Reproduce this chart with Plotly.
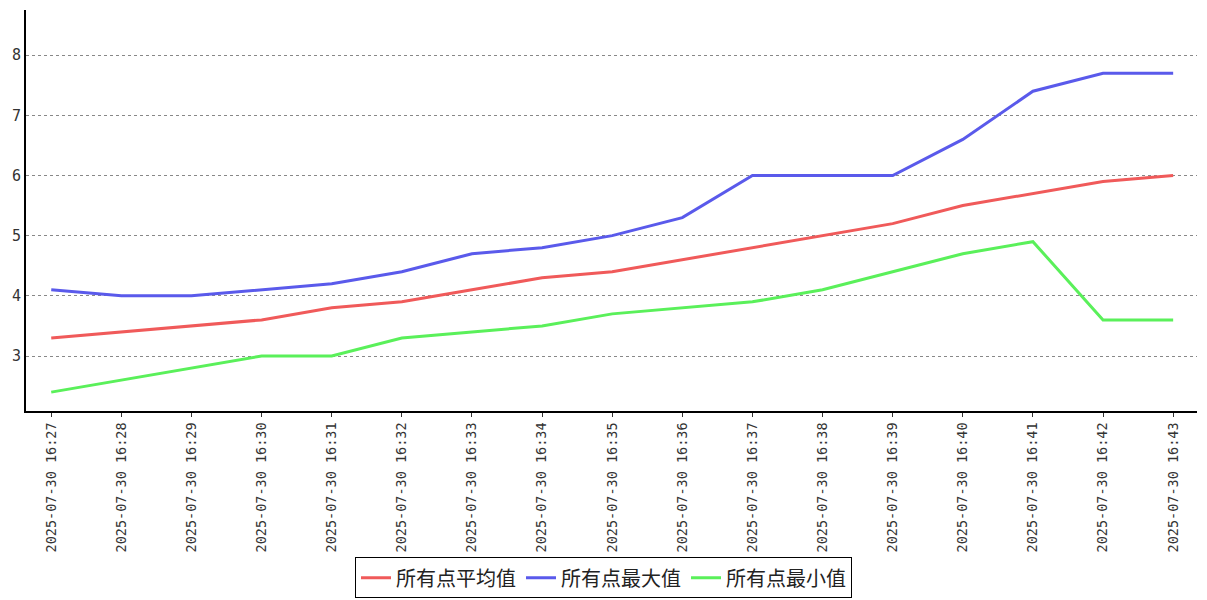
import plotly.graph_objects as go

times = ["2025-07-30 16:%02d" % m for m in range(27, 44)]
avg_vals = [3.3, 3.4, 3.5, 3.6, 3.8, 3.9, 4.1, 4.3, 4.4, 4.6, 4.8, 5.0, 5.2, 5.5, 5.7, 5.9, 6.0]
max_vals = [4.1, 4.0, 4.0, 4.1, 4.2, 4.4, 4.7, 4.8, 5.0, 5.3, 6.0, 6.0, 6.0, 6.6, 7.4, 7.7, 7.7]
min_vals = [2.4, 2.6, 2.8, 3.0, 3.0, 3.3, 3.4, 3.5, 3.7, 3.8, 3.9, 4.1, 4.4, 4.7, 4.9, 3.6, 3.6]
names = ["所有点平均值", "所有点最大值", "所有点最小值"]
colors = ["#f05a5a", "#5a5aeb", "#5af05a"]

fig = go.Figure()
for name, vals, c in zip(names, [avg_vals, max_vals, min_vals], colors):
    fig.add_trace(go.Scatter(x=times, y=vals, name=name, mode="lines",
                             line=dict(color=c, width=3)))

fig.update_layout(
    width=1207, height=600,
    margin=dict(l=26, r=10, t=10, b=189),
    plot_bgcolor="white", paper_bgcolor="white",
    font=dict(family="DejaVu Sans Mono, Noto Sans CJK SC", color="#333"),
    showlegend=True,
    legend=dict(orientation="h", x=0.5, xanchor="center", xref="container",
                y=0.003, yanchor="bottom", yref="container",
                bordercolor="black", borderwidth=1, bgcolor="rgba(255,255,255,0)",
                font=dict(size=20, family="Noto Sans CJK SC", color="#222"),
                itemwidth=30, tracegroupgap=0),
    xaxis=dict(type="category", range=[-0.36, 16.34], tickangle=-90,
               showline=True, linecolor="black", linewidth=2, showgrid=False,
               ticks="outside", ticklen=4, tickcolor="#333", automargin=False,
               tickfont=dict(size=13.5, family="DejaVu Sans Mono"), zeroline=False),
    yaxis=dict(range=[2.086, 8.75], tickvals=[3, 4, 5, 6, 7, 8],
               showline=True, linecolor="black", linewidth=2, automargin=False,
               showgrid=True, gridcolor="#888", griddash="dot", gridwidth=1,
               ticks="", tickfont=dict(size=15, family="DejaVu Sans Mono"), zeroline=False),
)
fig.write_html("out.html", config={"displayModeBar": False},
               post_script="document.body.style.margin='0';")
